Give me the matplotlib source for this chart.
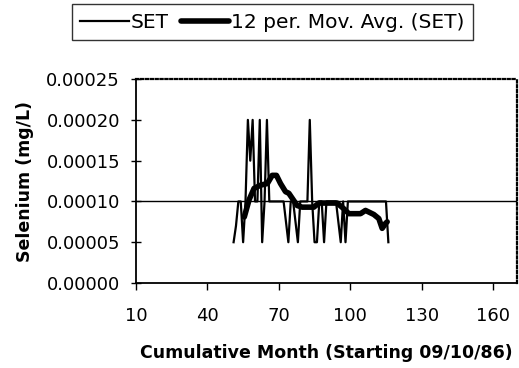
import matplotlib
matplotlib.use("Agg")
import matplotlib.pyplot as plt
from matplotlib.ticker import FormatStrFormatter

plt.rcParams["font.family"] = ["DejaVu Sans"]

# SET selenium results (mg/L) by cumulative month
set_month = [51, 52, 53, 54, 55, 56, 57, 58, 59, 60, 61, 62, 63, 64, 65, 66,
             67, 68, 70, 72, 74, 75, 76, 78, 79, 80, 82, 83, 84, 85, 86, 87,
             88, 89, 90, 92, 94, 96, 97, 98, 99, 100, 105, 110, 115, 116]
set_value = [5e-5, 7e-5, 1e-4, 1e-4, 5e-5, 1e-4, 2e-4, 1.5e-4, 2e-4, 1e-4,
             1e-4, 2e-4, 5e-5, 1e-4, 2e-4, 1e-4, 1e-4, 1e-4, 1e-4, 1e-4,
             5e-5, 1e-4, 1e-4, 5e-5, 1e-4, 1e-4, 1e-4, 2e-4, 1e-4, 5e-5,
             5e-5, 1e-4, 1e-4, 5e-5, 1e-4, 1e-4, 1e-4, 5e-5, 1e-4, 5e-5,
             1e-4, 1e-4, 1e-4, 1e-4, 1e-4, 5e-5]

# 12 period moving average
ma_month = [55.5, 57.5, 59.6, 62.4, 65.2, 67.2, 69.0, 70.7, 72.8, 74.2, 75.6,
            77.7, 79.8, 84.7, 86.8, 94.5, 97.3, 99.4, 104.3, 106.4, 109.9,
            112.0, 113.4, 114.8, 115.5]
ma_value = [8.1e-5, 1.02e-4, 1.16e-4, 1.2e-4, 1.22e-4, 1.32e-4, 1.32e-4,
            1.22e-4, 1.12e-4, 1.1e-4, 1.04e-4, 9.5e-5, 9.3e-5, 9.3e-5, 9.8e-5,
            9.8e-5, 9.1e-5, 8.5e-5, 8.5e-5, 8.9e-5, 8.4e-5, 7.9e-5, 6.7e-5,
            7.3e-5, 7.5e-5]

ref_level = 1e-4
x_ticks = [10, 40, 70, 100, 130, 160]
y_ticks = [0.0, 0.00005, 0.0001, 0.00015, 0.0002, 0.00025]

fig = plt.figure(figsize=(5.19, 3.68), dpi=100)
ax = fig.add_axes([0.262, 0.231, 0.734, 0.554])

ax.axhline(ref_level, color="black", lw=1.0, zorder=1)
ax.plot(set_month, set_value, color="black", lw=1.6, label="SET", zorder=2)
ax.plot(ma_month, ma_value, color="black", lw=4, solid_capstyle="round",
        solid_joinstyle="round", label="12 per. Mov. Avg. (SET)", zorder=3)

ax.set_xlim(10, 170)
ax.set_ylim(0, 0.00025)
ax.set_xticks(x_ticks)
ax.set_yticks(y_ticks)
ax.yaxis.set_major_formatter(FormatStrFormatter("%.5f"))
ax.tick_params(axis="both", labelsize=13, color="black", width=1)
ax.tick_params(axis="x", direction="out", length=5, pad=12)
ax.tick_params(axis="y", direction="inout", length=7, pad=8)

for side in ["top", "right"]:
    ax.spines[side].set_linestyle((0, (1, 1.2)))
    ax.spines[side].set_linewidth(1.6)
for side in ["left", "bottom"]:
    ax.spines[side].set_linewidth(1.3)

ax.set_xlabel("Cumulative Month (Starting 09/10/86)", fontsize=12.5,
              fontweight="bold", labelpad=14)
ax.set_ylabel("Selenium (mg/L)", fontsize=12.5, fontweight="bold", labelpad=9)

leg = fig.legend(loc="upper center", bbox_to_anchor=(0.525, 0.988), ncol=2,
                 fontsize=14.5, frameon=True, fancybox=False, edgecolor="black",
                 handlelength=2.4, handletextpad=0.1, columnspacing=0.6,
                 borderpad=0.42, borderaxespad=0.0)
leg.get_frame().set_linewidth(1.0)

plt.savefig("out.png", dpi=100)
plt.close()
